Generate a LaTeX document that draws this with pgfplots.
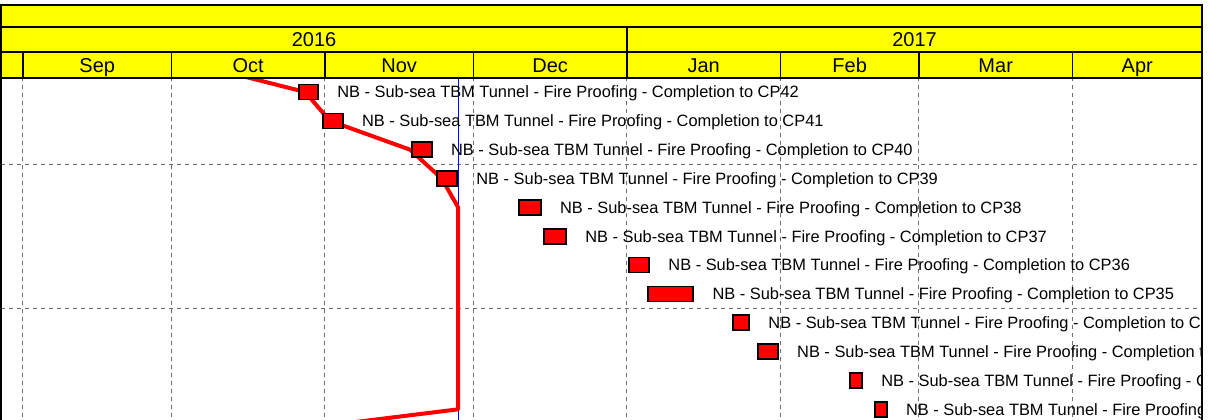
\documentclass[border=0pt]{standalone}
\usepackage{pgfplots}
\pgfplotsset{compat=1.18}
\usepackage{pgfplotstable}
\usepackage{fontspec}
\setmainfont{Liberation Sans}
\definecolor{hdryellow}{RGB}{255,255,0}
\definecolor{gridgray}{RGB}{110,110,110}

% days counted from 1 Sep 2016
\pgfplotstableread[col sep=comma]{
row,start,end,label
1,55.8,59.6,NB - Sub-sea TBM Tunnel - Fire Proofing - Completion to CP42
2,60.6,64.6,NB - Sub-sea TBM Tunnel - Fire Proofing - Completion to CP41
3,78.6,82.6,NB - Sub-sea TBM Tunnel - Fire Proofing - Completion to CP40
4,83.6,87.7,NB - Sub-sea TBM Tunnel - Fire Proofing - Completion to CP39
5,100.2,104.6,NB - Sub-sea TBM Tunnel - Fire Proofing - Completion to CP38
6,105.3,109.7,NB - Sub-sea TBM Tunnel - Fire Proofing - Completion to CP37
7,122.4,126.5,NB - Sub-sea TBM Tunnel - Fire Proofing - Completion to CP36
8,126.3,135.4,NB - Sub-sea TBM Tunnel - Fire Proofing - Completion to CP35
9,143.4,146.7,NB - Sub-sea TBM Tunnel - Fire Proofing - Completion to CP34
10,148.5,152.5,NB - Sub-sea TBM Tunnel - Fire Proofing - Completion to CP33
11,167.1,169.5,NB - Sub-sea TBM Tunnel - Fire Proofing - Completion to CP32
12,172.1,174.5,NB - Sub-sea TBM Tunnel - Fire Proofing - Completion to CP31
}\bars

\pgfplotstableread{
row x
0 34.0
1 57.0
2 62.0
3 78.2
4 84.6
5 87.9
12 87.9
13 40.8
}\progress

\pgfplotstableread{
row x
0.515 87.9
12.6 87.9
}\datadate

\begin{document}
\begin{tikzpicture}
\begin{scope}
\clip (-5pt,-5pt) rectangle (901.3pt,320pt);
\begin{axis}[name=ax, at={(0pt,0pt)}, anchor=south west, scale only axis, width=900.75pt, height=311.25pt,
  xmin=-4.444, xmax=238.18, ymin=-2.016, ymax=12.37, y dir=reverse,
  axis line style={draw=none},
  xtick={0,30,61,91,153,181,212}, extra x ticks={122},
  ytick={3.5,8.5},
  xticklabels={}, yticklabels={}, extra x tick labels={},
  major tick length=0pt,
  xmajorgrids, ymajorgrids,
  x grid style={gridgray, dash pattern=on 3pt off 3pt, line width=0.75pt},
  y grid style={gridgray, dash pattern=on 3pt off 3pt, line width=0.75pt},
  extra x tick style={grid style={solid, black!65, line width=0.75pt}},
  clip=true,
]
\addplot[blue, line width=0.75pt] table[x=x, y=row] {\datadate};
\addplot[red, line width=3pt, line join=round] table[x=x, y=row] {\progress};
\addplot[xbar stacked, draw=none, fill=none, bar width=0.52] table[x=start, y=row] {\bars};
\addplot[xbar stacked, draw=black, fill=red, line width=1.2pt, bar width=0.52]
  table[x expr=\thisrow{end}-\thisrow{start}, y=row] {\bars};
\addplot[draw=none, mark=none, nodes near coords, point meta=explicit symbolic,
  every node near coord/.append style={anchor=base west, inner sep=0pt, xshift=14.25pt, yshift=-4.4pt,
  font=\fontsize{12.3}{14}\selectfont, text=black}]
  table[x=end, y=row, meta=label] {\bars};
% header
\fill[hdryellow] (axis cs:-4.444,-2.016) rectangle (axis cs:238.18,0.515);
\draw[line width=1.1pt] (axis cs:-4.444,-1.253) -- (axis cs:238.18,-1.253);
\draw[line width=1.1pt] (axis cs:-4.444,-0.386) -- (axis cs:238.18,-0.386);
\draw[line width=1.5pt] (axis cs:-4.444,0.515) -- (axis cs:238.18,0.515);
\draw[line width=1.1pt] (axis cs:122,-1.253) -- (axis cs:122,0.515);
\pgfplotsinvokeforeach{0,30,61,91,153,181,212}{
  \draw[line width=1.3pt] (axis cs:#1,-0.386) -- (axis cs:#1,0.515);
}
\node[anchor=base, yshift=-5.4pt, font=\fontsize{15}{18}\selectfont] at (axis cs:58.8,-0.820) {2016};
\node[anchor=base, yshift=-5.4pt, font=\fontsize{15}{18}\selectfont] at (axis cs:180.1,-0.820) {2017};
\node[anchor=base, yshift=-5.4pt, font=\fontsize{15}{18}\selectfont] at (axis cs:15,0.064) {Sep};
\node[anchor=base, yshift=-5.4pt, font=\fontsize{15}{18}\selectfont] at (axis cs:45.5,0.064) {Oct};
\node[anchor=base, yshift=-5.4pt, font=\fontsize{15}{18}\selectfont] at (axis cs:76,0.064) {Nov};
\node[anchor=base, yshift=-5.4pt, font=\fontsize{15}{18}\selectfont] at (axis cs:106.5,0.064) {Dec};
\node[anchor=base, yshift=-5.4pt, font=\fontsize{15}{18}\selectfont] at (axis cs:137.5,0.064) {Jan};
\node[anchor=base, yshift=-5.4pt, font=\fontsize{15}{18}\selectfont] at (axis cs:167,0.064) {Feb};
\node[anchor=base, yshift=-5.4pt, font=\fontsize{15}{18}\selectfont] at (axis cs:196.5,0.064) {Mar};
\node[anchor=base, yshift=-5.4pt, font=\fontsize{15}{18}\selectfont] at (axis cs:225.1,0.064) {Apr};
\end{axis}
\end{scope}
\draw[line width=1.5pt] (ax.south west) -- (ax.north west) -- (ax.north east) -- (ax.south east);
\pgfresetboundingbox
\path ([xshift=-0.75pt]ax.south west) rectangle ([xshift=5.25pt,yshift=3.75pt]ax.north east);
\end{tikzpicture}
\end{document}
